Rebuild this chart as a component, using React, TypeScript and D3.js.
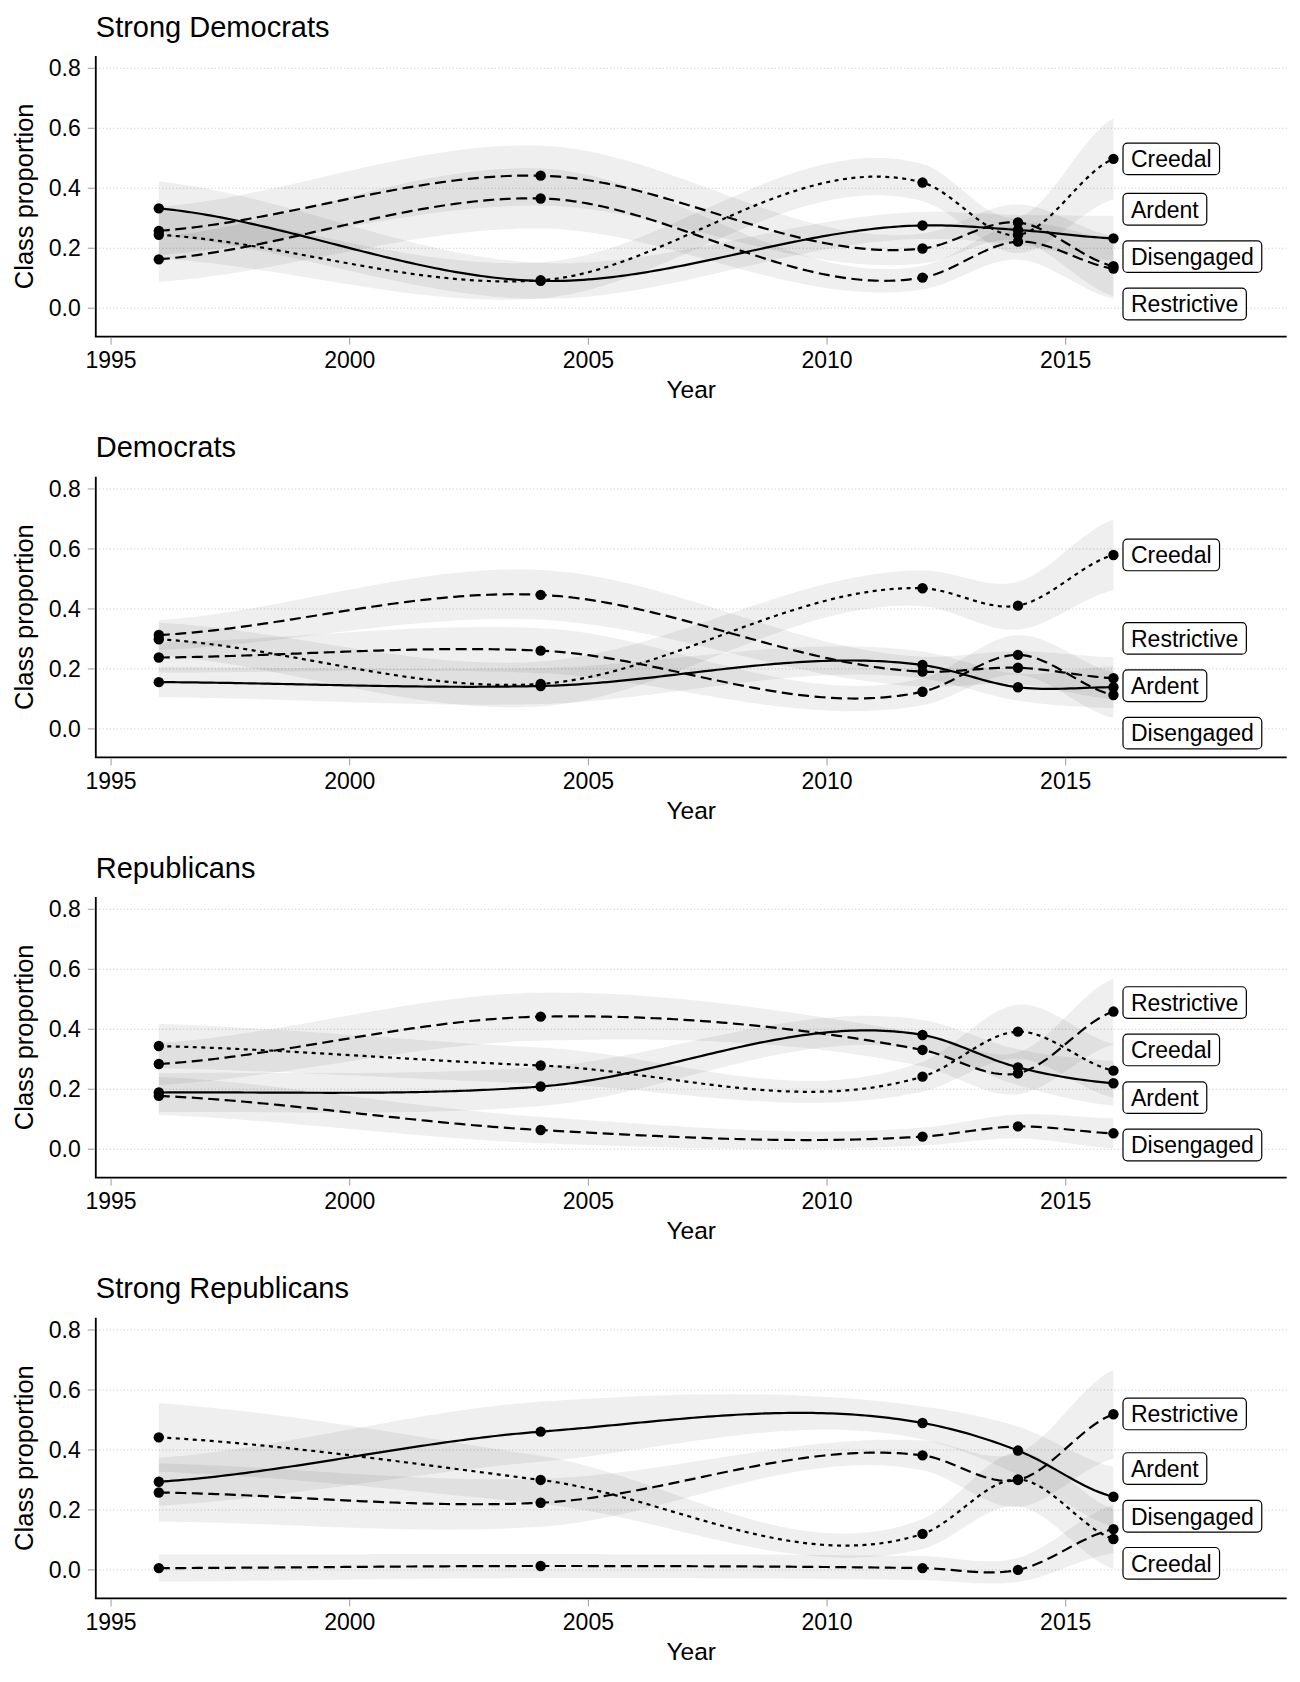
import React, { useEffect, useRef } from 'react';
import * as d3 from 'd3';

const years = [1996, 2004, 2012, 2014, 2016];
const classes = ['Ardent', 'Creedal', 'Restrictive', 'Disengaged'];
const panelTitles = ['Strong Democrats', 'Democrats', 'Republicans', 'Strong Republicans'];
const xTicks = [1995, 2000, 2005, 2010, 2015];
const yTicks = [0, 0.2, 0.4, 0.6, 0.8];

// rows follow `classes`: Ardent, Creedal, Restrictive, Disengaged
const strongDemValues = [
  [0.333, 0.091, 0.276, 0.261, 0.233],
  [0.245, 0.093, 0.419, 0.244, 0.498],
  [0.258, 0.442, 0.199, 0.286, 0.14],
  [0.163, 0.366, 0.102, 0.222, 0.132],
];
const strongDemSE = [
  [0.09, 0.06, 0.045, 0.05, 0.075],
  [0.08, 0.06, 0.062, 0.06, 0.135],
  [0.08, 0.1, 0.05, 0.06, 0.1],
  [0.075, 0.1, 0.04, 0.06, 0.1],
];
const strongDemLabels = [0.33, 0.498, 0.014, 0.172];

const demValues = [
  [0.156, 0.143, 0.213, 0.139, 0.139],
  [0.299, 0.15, 0.469, 0.411, 0.58],
  [0.313, 0.447, 0.191, 0.204, 0.169],
  [0.238, 0.261, 0.124, 0.247, 0.113],
];
const demSE = [
  [0.05, 0.06, 0.045, 0.045, 0.07],
  [0.055, 0.075, 0.06, 0.08, 0.118],
  [0.05, 0.083, 0.05, 0.055, 0.07],
  [0.05, 0.075, 0.045, 0.066, 0.077],
];
const demLabels = [0.144, 0.58, 0.302, -0.014];

const repValues = [
  [0.189, 0.209, 0.381, 0.273, 0.22],
  [0.344, 0.279, 0.242, 0.392, 0.262],
  [0.284, 0.442, 0.331, 0.253, 0.459],
  [0.178, 0.064, 0.042, 0.076, 0.053],
];
const repSE = [
  [0.065, 0.065, 0.05, 0.06, 0.075],
  [0.074, 0.06, 0.05, 0.09, 0.09],
  [0.07, 0.08, 0.055, 0.07, 0.11],
  [0.064, 0.044, 0.03, 0.04, 0.05],
];
const repLabels = [0.172, 0.331, 0.489, 0.014];

const strongRepValues = [
  [0.294, 0.461, 0.49, 0.398, 0.244],
  [0.442, 0.3, 0.12, 0.302, 0.103],
  [0.258, 0.224, 0.382, 0.3, 0.519],
  [0.006, 0.013, 0.006, 0.0, 0.136],
];
const strongRepSE = [
  [0.08, 0.1, 0.055, 0.08, 0.1],
  [0.114, 0.08, 0.05, 0.09, 0.1],
  [0.097, 0.08, 0.05, 0.09, 0.148],
  [0.045, 0.04, 0.04, 0.04, 0.08],
];
const strongRepLabels = [0.338, 0.022, 0.52, 0.179];

const panelValues = [strongDemValues, demValues, repValues, strongRepValues];
const panelSE = [strongDemSE, demSE, repSE, strongRepSE];
const panelLabels = [strongDemLabels, demLabels, repLabels, strongRepLabels];

// cubic Hermite curve through the points, y as a function of x
// (inner slopes: mean of three-point and plain average slope; ends: half the chord)
function smoothThrough(xs: number[], ys: number[]) {
  const n = xs.length;
  const h = d3.range(n - 1).map((i) => xs[i + 1] - xs[i]);
  const s = d3.range(n - 1).map((i) => (ys[i + 1] - ys[i]) / h[i]);
  const d = new Array(n).fill(0);
  d[0] = 0.5 * s[0];
  d[n - 1] = 0.5 * s[n - 2];
  for (let i = 1; i < n - 1; i++) {
    const bessel = (h[i] * s[i - 1] + h[i - 1] * s[i]) / (h[i - 1] + h[i]);
    const plain = (s[i - 1] + s[i]) / 2;
    d[i] = 0.5 * (bessel + plain);
  }
  return (x: number) => {
    let i = 0;
    while (i < n - 2 && x > xs[i + 1]) i++;
    const t = (x - xs[i]) / h[i];
    const t2 = t * t;
    const t3 = t2 * t;
    return (
      (2 * t3 - 3 * t2 + 1) * ys[i] +
      (t3 - 2 * t2 + t) * h[i] * d[i] +
      (-2 * t3 + 3 * t2) * ys[i + 1] +
      (t3 - t2) * h[i] * d[i + 1]
    );
  };
}

const App = () => {
  const svgRef: any = useRef();

  useEffect(() => {
    const width = 1300;
    const height = 1682;
    const font = '"Liberation Sans", Arial, Helvetica, sans-serif';
    const panelOffsets = [0, 420.7, 841, 1261.7];
    const dashes: Record<string, string | null> = {
      Ardent: null,
      Creedal: '4 4.5',
      Restrictive: '11 5.5',
      Disengaged: '11 5.5',
    };

    const svg = d3.select(svgRef.current);
    svg.selectAll('*').remove();
    svg.attr('width', width).attr('height', height);

    const x = d3.scaleLinear().domain([1994.68, 2019.63]).range([95.8, 1286.7]);
    const samples = d3.range(years[0], years[years.length - 1] + 0.001, 0.1);

    panelTitles.forEach((title, p) => {
      const off = panelOffsets[p];
      const y = d3.scaleLinear().domain([-0.095, 0.841]).range([336.7 + off, 56 + off]);
      const g = svg.append('g');
      const [x0, x1] = x.range();
      const [yb, yt] = y.range();

      // grid
      g.selectAll('line.grid')
        .data(yTicks)
        .enter()
        .append('line')
        .attr('x1', x0)
        .attr('x2', x1)
        .attr('y1', (d) => y(d))
        .attr('y2', (d) => y(d))
        .attr('stroke', '#bdbdbd')
        .attr('stroke-width', 0.9)
        .attr('stroke-dasharray', '1 2.5');

      const vals = panelValues[p];
      const se = panelSE[p];

      // ribbons
      classes.forEach((cls, k) => {
        const lo = smoothThrough(years, vals[k].map((v, i) => v - se[k][i]));
        const hi = smoothThrough(years, vals[k].map((v, i) => v + se[k][i]));
        const area = d3
          .area<number>()
          .x((d) => x(d))
          .y0((d) => y(lo(d)))
          .y1((d) => y(hi(d)));
        g.append('path')
          .attr('d', area(samples))
          .attr('fill', '#000')
          .attr('fill-opacity', 0.062);
      });

      // lines
      classes.forEach((cls, k) => {
        const f = smoothThrough(years, vals[k]);
        const line = d3
          .line<number>()
          .x((d) => x(d))
          .y((d) => y(f(d)));
        const path = g
          .append('path')
          .attr('d', line(samples))
          .attr('fill', 'none')
          .attr('stroke', '#000')
          .attr('stroke-width', 2.2);
        if (dashes[cls]) path.attr('stroke-dasharray', dashes[cls]);
      });

      // points
      classes.forEach((cls, k) => {
        g.selectAll(null)
          .data(years.map((yr, i) => [yr, vals[k][i]]))
          .enter()
          .append('circle')
          .attr('cx', (d) => x(d[0]))
          .attr('cy', (d) => y(d[1]))
          .attr('r', 5.2)
          .attr('fill', '#000');
      });

      // axes
      g.append('line')
        .attr('x1', x0).attr('x2', x0)
        .attr('y1', yt).attr('y2', yb)
        .attr('stroke', '#000').attr('stroke-width', 1.8);
      g.append('line')
        .attr('x1', x0 - 0.9).attr('x2', x1)
        .attr('y1', yb).attr('y2', yb)
        .attr('stroke', '#000').attr('stroke-width', 1.8);

      xTicks.forEach((t) => {
        g.append('line')
          .attr('x1', x(t)).attr('x2', x(t))
          .attr('y1', yb + 1).attr('y2', yb + 8)
          .attr('stroke', '#9a9a9a').attr('stroke-width', 1);
        g.append('text')
          .attr('x', x(t))
          .attr('y', yb + 31.5)
          .attr('text-anchor', 'middle')
          .attr('font-family', font)
          .attr('font-size', 23)
          .attr('fill', '#000')
          .text(String(t));
      });
      yTicks.forEach((t) => {
        g.append('line')
          .attr('x1', x0 - 8).attr('x2', x0 - 1)
          .attr('y1', y(t)).attr('y2', y(t))
          .attr('stroke', '#9a9a9a').attr('stroke-width', 1);
        g.append('text')
          .attr('x', x0 - 15)
          .attr('y', y(t) + 8.2)
          .attr('text-anchor', 'end')
          .attr('font-family', font)
          .attr('font-size', 23)
          .attr('fill', '#000')
          .text(t.toFixed(1));
      });

      // titles
      g.append('text')
        .attr('x', 95.8)
        .attr('y', 36.7 + off)
        .attr('font-family', font)
        .attr('font-size', 29)
        .attr('fill', '#000')
        .text(title);
      g.append('text')
        .attr('x', (x0 + x1) / 2)
        .attr('y', yb + 61.6)
        .attr('text-anchor', 'middle')
        .attr('font-family', font)
        .attr('font-size', 24.5)
        .attr('fill', '#000')
        .text('Year');
      g.append('text')
        .attr('transform', `translate(33,${(yt + yb) / 2}) rotate(-90)`)
        .attr('text-anchor', 'middle')
        .attr('font-family', font)
        .attr('font-size', 25.5)
        .attr('fill', '#000')
        .text('Class proportion');

      // end labels
      classes.forEach((cls, k) => {
        const cy = y(panelLabels[p][k]);
        const lg = g.append('g');
        const rect = lg
          .append('rect')
          .attr('x', 1123)
          .attr('y', cy - 15.8)
          .attr('height', 31.6)
          .attr('rx', 4.5)
          .attr('fill', '#fff')
          .attr('stroke', '#000')
          .attr('stroke-width', 1.2);
        const txt = lg
          .append('text')
          .attr('x', 1131)
          .attr('y', cy + 8.3)
          .attr('font-family', font)
          .attr('font-size', 23)
          .attr('fill', '#000')
          .text(cls);
        const tw = (txt.node() as SVGTextElement).getComputedTextLength();
        rect.attr('width', tw + 16);
      });
    });
  }, []);

  return (
    <svg
      ref={svgRef}
      style={{ position: 'absolute', left: 0, top: 0, background: '#fff' }}
    ></svg>
  );
};

export default App;
